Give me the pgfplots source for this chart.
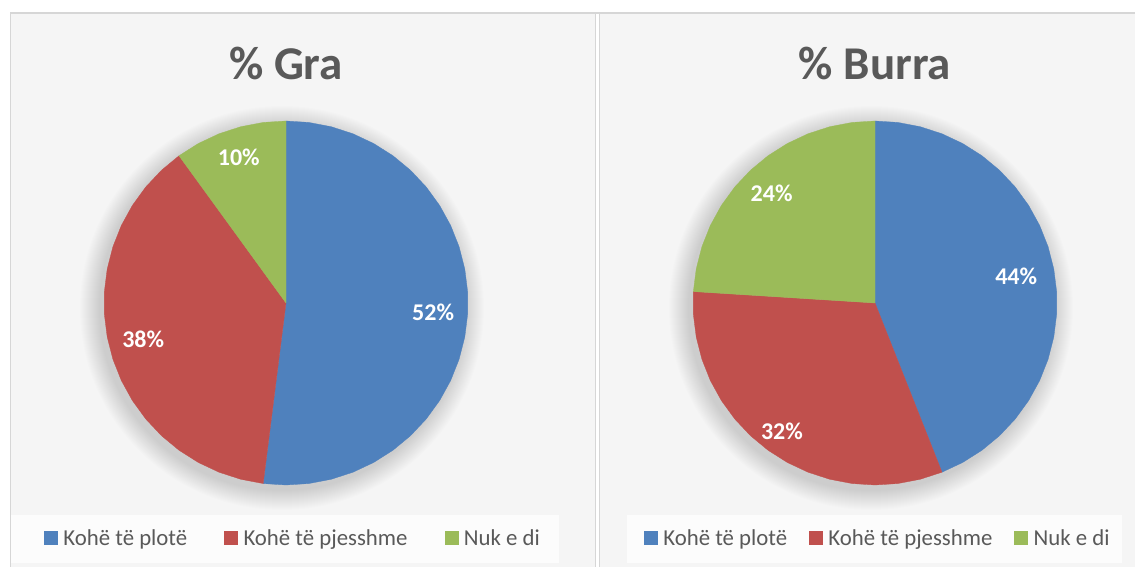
\documentclass[border=0pt]{standalone}
\usepackage{fontspec}
\setmainfont{Carlito}
\usepackage{pgfplots}
\pgfplotsset{compat=1.18}
\usepgfplotslibrary{polar}
\definecolor{cBlue}{HTML}{4F81BD}
\definecolor{cRed}{HTML}{C0504D}
\definecolor{cGreen}{HTML}{9BBB59}
\definecolor{txt}{HTML}{595959}
\definecolor{panel}{HTML}{F5F5F5}
\definecolor{legbg}{HTML}{FCFCFC}
\definecolor{edge}{HTML}{D6D6D6}
\tikzset{lab/.style={text=white, font=\bfseries\fontsize{24}{27}\selectfont}}
\pgfplotsset{
  piechart/.style={
    width=364pt, height=364pt, scale only axis,
    xmin=0, xmax=360, ymin=0, ymax=1,
    hide axis, clip=false, anchor=center,
    title style={font=\bfseries\fontsize{47}{52}\selectfont, text=txt, at={(0.5,1.118)}, anchor=center},
    legend columns=3,
    legend image code/.code={\fill[##1] (0pt,-6.5pt) rectangle (13pt,6.5pt);},
    legend style={draw=none, fill=none, inner sep=0pt, anchor=west,
      font=\fontsize{22.8}{26}\selectfont, text=txt, cells={anchor=west}, nodes={inner sep=0pt},
      /tikz/every odd column/.append style={column sep=6pt}},
  },
  slice/.style={fill=#1, draw=#1, line width=0.3pt},
}
\begin{document}
\begin{tikzpicture}[x=1pt,y=1pt]
\path[use as bounding box] (0,0) rectangle (1135,567);
\fill[white] (0,0) rectangle (1135,567);
\fill[panel] (10,0) rectangle (595,554);
\fill[panel] (600,0) rectangle (1135,554);
\draw[edge, line width=1.5pt] (10,554) -- (1135,554);
\draw[edge, line width=0.8pt] (10,0) -- (10,554);
\draw[edge, line width=0.8pt] (595.5,0) -- (595.5,554);
\draw[edge, line width=0.8pt] (599.5,0) -- (599.5,554);
\fill[legbg] (11,4) rectangle (559,52);
\fill[legbg] (627,4) rectangle (1122,52);
% soft shadows behind the pies
\foreach \k in {1,...,20} {
  \fill[black, opacity=0.006] (282,259) circle ({182+\k});
  \fill[black, opacity=0.006] (871,259) circle ({182+\k});
}
\begin{polaraxis}[piechart, at={(286pt,264pt)}, title={\% Gra},
  legend style={at={(-0.165,-0.1456)}, /tikz/every even column/.append style={column sep=37pt}},
  legend entries={Kohë të plotë, Kohë të pjesshme, Nuk e di}]
\addplot[slice=cBlue] coordinates {(0,0) (90,1) (82.8,1) (75.6,1) (68.4,1) (61.2,1) (54,1) (46.8,1) (39.6,1) (32.4,1) (25.2,1) (18,1) (10.8,1) (3.6,1) (-3.6,1) (-10.8,1) (-18,1) (-25.2,1) (-32.4,1) (-39.6,1) (-46.8,1) (-54,1) (-61.2,1) (-68.4,1) (-75.6,1) (-82.8,1) (-90,1) (-97.2,1) (0,0)};
\addplot[slice=cRed] coordinates {(0,0) (-97.2,1) (-104.4,1) (-111.6,1) (-118.8,1) (-126,1) (-133.2,1) (-140.4,1) (-147.6,1) (-154.8,1) (-162,1) (-169.2,1) (-176.4,1) (-183.6,1) (-190.8,1) (-198,1) (-205.2,1) (-212.4,1) (-219.6,1) (-226.8,1) (-234,1) (0,0)};
\addplot[slice=cGreen] coordinates {(0,0) (-234,1) (-241.2,1) (-248.4,1) (-255.6,1) (-262.8,1) (-270,1) (0,0)};
\node[lab] at (axis cs:-3.6,0.81) {52\%};
\node[lab] at (axis cs:-165.6,0.81) {38\%};
\node[lab] at (axis cs:108,0.84) {10\%};
\end{polaraxis}
\begin{polaraxis}[piechart, at={(875pt,264pt)}, title={\% Burra},
  legend style={at={(-0.135,-0.1456)}, /tikz/every even column/.append style={column sep=22pt}},
  legend entries={Kohë të plotë, Kohë të pjesshme, Nuk e di}]
\addplot[slice=cBlue] coordinates {(0,0) (90,1) (82.8,1) (75.6,1) (68.4,1) (61.2,1) (54,1) (46.8,1) (39.6,1) (32.4,1) (25.2,1) (18,1) (10.8,1) (3.6,1) (-3.6,1) (-10.8,1) (-18,1) (-25.2,1) (-32.4,1) (-39.6,1) (-46.8,1) (-54,1) (-61.2,1) (-68.4,1) (0,0)};
\addplot[slice=cRed] coordinates {(0,0) (-68.4,1) (-75.6,1) (-82.8,1) (-90,1) (-97.2,1) (-104.4,1) (-111.6,1) (-118.8,1) (-126,1) (-133.2,1) (-140.4,1) (-147.6,1) (-154.8,1) (-162,1) (-169.2,1) (-176.4,1) (-183.6,1) (0,0)};
\addplot[slice=cGreen] coordinates {(0,0) (-183.6,1) (-190.8,1) (-198,1) (-205.2,1) (-212.4,1) (-219.6,1) (-226.8,1) (-234,1) (-241.2,1) (-248.4,1) (-255.6,1) (-262.8,1) (-270,1) (0,0)};
\node[lab] at (axis cs:10.8,0.79) {44\%};
\node[lab] at (axis cs:-126,0.87) {32\%};
\node[lab] at (axis cs:133.2,0.83) {24\%};
\end{polaraxis}
\end{tikzpicture}
\end{document}
